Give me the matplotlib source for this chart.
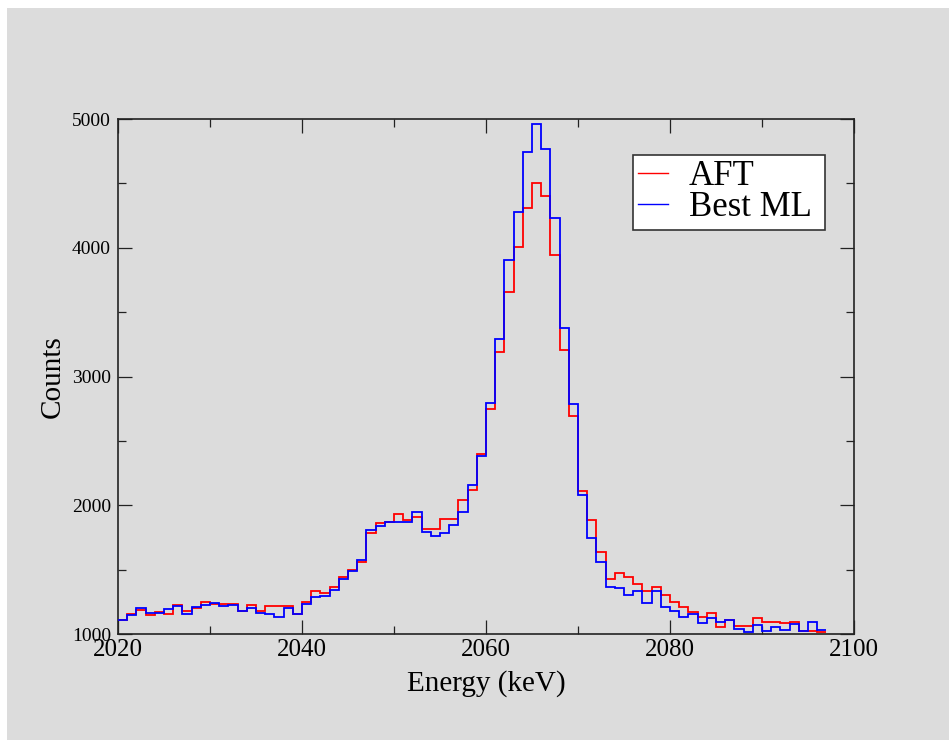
import matplotlib
matplotlib.use("Agg")
import matplotlib.pyplot as plt
from matplotlib.patches import Rectangle
from matplotlib.ticker import MultipleLocator
import numpy as np

# ---- data ----
bin_edges = list(range(2020, 2098))  # 1 keV bins, 2020..2097
aft_counts = [1111, 1158, 1189, 1150, 1176, 1158, 1230, 1184, 1207, 1248,
              1232, 1232, 1237, 1184, 1230, 1184, 1220, 1220, 1220, 1158,
              1248, 1333, 1323, 1370, 1442, 1499, 1564, 1784, 1867, 1872,
              1932, 1888, 1913, 1818, 1818, 1896, 1896, 2043, 2117, 2397,
              2749, 3194, 3660, 4009, 4307, 4506, 4403, 3945, 3207, 2695,
              2110, 1887, 1637, 1430, 1474, 1447, 1391, 1336, 1370, 1305,
              1253, 1214, 1176, 1137, 1168, 1054, 1111, 1067, 1067, 1129,
              1093, 1093, 1085, 1093, 1028, 1028, 1020]
ml_counts = [1111, 1150, 1207, 1168, 1168, 1194, 1222, 1158, 1212, 1225,
             1240, 1220, 1225, 1184, 1207, 1168, 1158, 1137, 1207, 1158,
             1232, 1289, 1297, 1344, 1430, 1494, 1577, 1810, 1841, 1872,
             1872, 1872, 1952, 1792, 1766, 1784, 1849, 1952, 2158, 2387,
             2793, 3290, 3906, 4281, 4747, 4962, 4766, 4235, 3376, 2786,
             2085, 1745, 1564, 1370, 1357, 1305, 1336, 1241, 1336, 1214,
             1181, 1137, 1155, 1085, 1129, 1093, 1111, 1041, 1018, 1072,
             1028, 1059, 1033, 1080, 1028, 1098, 1033]
series_labels = ["AFT", "Best ML"]
x_label = "Energy (keV)"
y_label = "Counts"

W, H = 949, 740
fig = plt.figure(figsize=(W / 100, H / 100), dpi=100, facecolor="white")
bg = "#dcdcdc"
fig.patches.append(Rectangle((7 / W, 0), 1 - 7 / W, 1 - 8 / H,
                             transform=fig.transFigure, facecolor=bg,
                             edgecolor="none", zorder=-10))

left, right, top, bottom = 118, 854, 119, 634.3
ax = fig.add_axes([left / W, 1 - bottom / H, (right - left) / W, (bottom - top) / H])
ax.set_facecolor("none")

serif = ["Liberation Serif", "DejaVu Serif"]

ax.stairs(aft_counts, bin_edges, color="#ff0000", linewidth=1.3, baseline=None,
          label=series_labels[0], zorder=2)
ax.stairs(ml_counts, bin_edges, color="#0000ff", linewidth=1.3, baseline=None,
          label=series_labels[1], zorder=3)

ax.set_xlim(2020, 2100)
ax.set_ylim(1000, 5000)
ax.xaxis.set_major_locator(MultipleLocator(20))
ax.xaxis.set_minor_locator(MultipleLocator(10))
ax.yaxis.set_major_locator(MultipleLocator(1000))
ax.yaxis.set_minor_locator(MultipleLocator(500))

for s in ax.spines.values():
    s.set_linewidth(1.2)
    s.set_color("#222222")

ax.tick_params(which="both", direction="in", top=True, right=True, color="#222222")
ax.tick_params(which="major", length=10, width=0.9)
ax.tick_params(which="minor", length=5.5, width=0.9)
ax.tick_params(axis="x", which="major", pad=3.5)
ax.tick_params(axis="y", which="major", pad=5)

for lab in ax.get_xticklabels():
    lab.set_fontfamily(serif)
    lab.set_fontsize(18)
for lab in ax.get_yticklabels():
    lab.set_fontfamily(serif)
    lab.set_fontsize(14)

fig.text(486 / W, 1 - 691 / H, x_label, ha="center", va="baseline",
         fontsize=21, family=serif)
fig.text(53 / W, 1 - 377 / H, y_label, ha="center", va="center",
         rotation=90, fontsize=21, family=serif)

lx0, lx1, ly0, ly1 = 633, 825, 155, 229
leg = ax.legend(loc="upper left",
                bbox_to_anchor=(lx0 / W, 1 - ly1 / H, (lx1 - lx0) / W, (ly1 - ly0) / H),
                bbox_transform=fig.transFigure, borderaxespad=0, mode="expand",
                prop={"family": serif, "size": 25}, fancybox=False,
                framealpha=1, facecolor="white", edgecolor="#333333",
                labelspacing=-0.05, borderpad=0.15, handlelength=0.86,
                handletextpad=0.6)
leg.get_frame().set_linewidth(1.2)
for h in leg.get_lines():
    h.set_linewidth(1.0)

fig.savefig("out.png", dpi=100, facecolor="white")
